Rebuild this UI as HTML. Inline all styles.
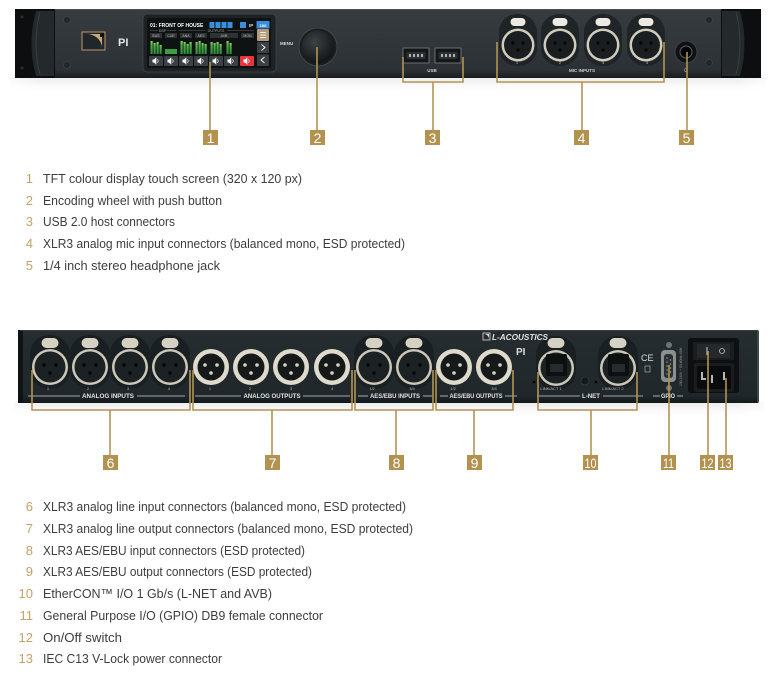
<!DOCTYPE html>
<html><head><meta charset="utf-8">
<style>html,body{margin:0;padding:0;background:#fff}svg{display:block}</style>
</head><body>
<svg width="776" height="673" viewBox="0 0 776 673" xmlns="http://www.w3.org/2000/svg" xmlns:xlink="http://www.w3.org/1999/xlink" font-family="'Liberation Sans', sans-serif">
<defs>
 <linearGradient id="sh" x1="0" y1="0" x2="0" y2="1"><stop offset="0" stop-color="#d4d4d4"/><stop offset="0.4" stop-color="#ececec"/><stop offset="1" stop-color="#ffffff" stop-opacity="0"/></linearGradient>
 <linearGradient id="shx" x1="0" y1="0" x2="1" y2="0"><stop offset="0" stop-color="#fff" stop-opacity="0"/><stop offset="0.05" stop-color="#fff" stop-opacity="1"/><stop offset="0.95" stop-color="#fff" stop-opacity="1"/><stop offset="1" stop-color="#fff" stop-opacity="0"/></linearGradient>
 <mask id="shm"><rect x="0" y="0" width="776" height="673" fill="url(#shx)"/></mask>
 <linearGradient id="topP" x1="0" y1="0" x2="0" y2="1"><stop offset="0" stop-color="#363c3f"/><stop offset="0.88" stop-color="#2b3134"/><stop offset="1" stop-color="#181c1e"/></linearGradient>
 <linearGradient id="botP" x1="0" y1="0" x2="0" y2="1"><stop offset="0" stop-color="#262d30"/><stop offset="0.9" stop-color="#20272a"/><stop offset="1" stop-color="#14181a"/></linearGradient>
 <radialGradient id="knob" cx="0.4" cy="0.35" r="0.75"><stop offset="0" stop-color="#3b4245"/><stop offset="1" stop-color="#0c0e0f"/></radialGradient>
 <linearGradient id="grn" x1="0" y1="0" x2="0" y2="1"><stop offset="0" stop-color="#9bd45c"/><stop offset="0.25" stop-color="#4fb24a"/><stop offset="1" stop-color="#2c8a38"/></linearGradient>

 <g id="xfT">
  <rect x="-19" y="-31" width="38" height="52" rx="18" fill="#1f2426"/>
  <rect x="-7.5" y="-27" width="15" height="8" rx="4" fill="#eceae2"/>
  <circle r="16.5" fill="#cfcbbd"/>
  <circle r="14" fill="#1a1e20"/>
  <circle cx="-5" cy="-2" r="1.6" fill="#050606"/>
  <circle cx="5" cy="-2" r="1.6" fill="#050606"/>
  <circle cx="0" cy="5" r="1.6" fill="#050606"/>
 </g>
 <g id="xfB">
  <rect x="-20" y="-32" width="40" height="54" rx="19" fill="#1a1f21"/>
  <rect x="-8.5" y="-29" width="17" height="10" rx="5" fill="#d6d2c3"/>
  <circle r="18" fill="#cbc7b9"/>
  <circle r="15.5" fill="#1c2123"/>
  <circle cx="-6" cy="-2" r="1.7" fill="#050606"/>
  <circle cx="6" cy="-2" r="1.7" fill="#050606"/>
  <circle cx="0" cy="6" r="1.7" fill="#050606"/>
 </g>
 <g id="xmB">
  <circle r="18" fill="#dedacc"/>
  <circle r="13.5" fill="#15191a"/>
  <circle cx="-6" cy="-2" r="1.8" fill="#d8d3c2"/>
  <circle cx="6" cy="-2" r="1.8" fill="#d8d3c2"/>
  <circle cx="0" cy="6" r="1.8" fill="#d8d3c2"/>
 </g>
 <g id="eth">
  <rect x="-20" y="-32" width="40" height="54" rx="19" fill="#1a1f21"/>
  <rect x="-8.5" y="-30" width="17" height="10" rx="5" fill="#d6d2c3"/>
  <circle r="18" fill="#cbc7b9"/>
  <circle r="15.5" fill="#1c2123"/>
  <rect x="-10" y="-14" width="21" height="22" rx="2" fill="#0d1011"/>
  <rect x="-6" y="-4" width="13" height="8" fill="#262b2d"/>
 </g>
 <g id="spk">
  <path d="M-3.5,-1.5 h1.6 l2.2,-2.2 v7.4 l-2.2,-2.2 h-1.6 z" fill="#fff"/>
  <path d="M1.4,-1.8 q1.6,1.8 0,3.6" stroke="#fff" stroke-width="0.7" fill="none"/>
 </g>
</defs>

<!-- ================= TOP DEVICE ================= -->
<rect x="10" y="77" width="756" height="16" fill="url(#sh)" opacity="0.45" mask="url(#shm)"/>
<rect x="15" y="9" width="746" height="69" fill="url(#topP)"/>
<line x1="15" y1="9.5" x2="761" y2="9.5" stroke="#4a5154" stroke-width="1"/>
<!-- left handle -->
<rect x="15" y="9" width="40" height="69" fill="#0c0e0f"/>
<path d="M36,11 Q27,43 36,76 L54,76 L54,11 Z" fill="#24292b"/>
<path d="M40,12 Q32,43 40,75" stroke="#3a4043" stroke-width="1" fill="none"/>
<circle cx="22" cy="17" r="1.5" fill="#2a2f31"/><circle cx="22" cy="68" r="1.5" fill="#2a2f31"/>
<circle cx="67" cy="20" r="3.5" fill="#22272a" stroke="#3d4346" stroke-width="0.8"/>
<circle cx="67" cy="65" r="3.5" fill="#22272a" stroke="#3d4346" stroke-width="0.8"/>
<!-- right handle -->
<rect x="721" y="9" width="40" height="69" fill="#0c0e0f"/>
<path d="M740,11 Q749,43 740,76 L722,76 L722,11 Z" fill="#24292b"/>
<path d="M736,12 Q744,43 736,75" stroke="#3a4043" stroke-width="1" fill="none"/>
<circle cx="709" cy="20" r="3.5" fill="#22272a" stroke="#3d4346" stroke-width="0.8"/>
<circle cx="709" cy="63" r="3.5" fill="#22272a" stroke="#3d4346" stroke-width="0.8"/>
<!-- logo -->
<rect x="82" y="32" width="23" height="18" fill="#20262a" stroke="#b99a68" stroke-width="1"/>
<path d="M84,34 H102 V48 A16,14 0 0 0 84,34 Z" fill="#c7a879"/>
<rect x="100" y="33" width="4" height="4" fill="#111"/>
<text x="118" y="46" font-size="11" font-weight="bold" fill="#e6e6e6">PI</text>

<!-- screen -->
<rect x="143" y="14" width="133" height="58" rx="4" fill="#1d2224" stroke="#41474a" stroke-width="0.8"/>
<rect x="147" y="18" width="124" height="50" rx="1" fill="#0f1213"/>
<text x="150" y="27" font-size="5" font-weight="bold" fill="#fff">01: FRONT OF HOUSE</text>
<g fill="#3a8fdc"><rect x="209.5" y="22" width="5" height="6"/><rect x="215.5" y="22" width="5" height="6"/><rect x="221.5" y="22" width="5" height="6"/><rect x="227.5" y="22" width="5" height="6"/><rect x="240" y="22" width="6" height="6"/><rect x="256.5" y="21" width="13" height="7.5"/></g>
<text x="249" y="27" font-size="4.5" fill="#ddd" font-weight="bold">IP</text>
<text x="263" y="26.8" font-size="4" fill="#fff" text-anchor="middle" font-weight="bold">100</text>
<g stroke="#666" stroke-width="0.5"><line x1="150" y1="30.5" x2="158" y2="30.5"/><line x1="167" y1="30.5" x2="176" y2="30.5"/><line x1="179" y1="30.5" x2="205" y2="30.5"/><line x1="227" y1="30.5" x2="254" y2="30.5"/></g>
<text x="162.5" y="32" font-size="3.5" fill="#aaa" text-anchor="middle">DSP</text>
<text x="216" y="32" font-size="3.5" fill="#aaa" text-anchor="middle">OUTPUTS</text>
<g fill="#2d3335"><rect x="150" y="33" width="12" height="5"/><rect x="165" y="33" width="12" height="5"/><rect x="180" y="33" width="12" height="5"/><rect x="195" y="33" width="12" height="5"/><rect x="210" y="33" width="28" height="5"/><rect x="241" y="33" width="13" height="5"/></g>
<g font-size="3.5" fill="#bbb" text-anchor="middle"><text x="156" y="37">BUS</text><text x="171" y="37">CUE</text><text x="186" y="37">ANA</text><text x="201" y="37">AES</text><text x="224" y="37">AVB</text><text x="247.5" y="37">MON</text></g>
<g fill="url(#grn)">
 <rect x="150.5" y="41" width="2.2" height="13"/><rect x="153.5" y="43" width="2.2" height="11"/><rect x="156.5" y="42" width="2.2" height="12"/><rect x="159.5" y="45" width="2.2" height="9"/>
 <rect x="165" y="49" width="12" height="5" fill="#3a9e44"/>
 <rect x="180.5" y="41" width="2.2" height="13"/><rect x="183.5" y="42" width="2.2" height="12"/><rect x="186.5" y="44" width="2.2" height="10"/><rect x="189.5" y="42" width="2.2" height="12"/>
 <rect x="195.5" y="42" width="2.2" height="12"/><rect x="198.5" y="41" width="2.2" height="13"/><rect x="201.5" y="43" width="2.2" height="11"/><rect x="204.5" y="44" width="2.2" height="10"/>
 <rect x="210.5" y="42" width="2.2" height="12"/><rect x="213.5" y="43" width="2.2" height="11"/><rect x="216.5" y="42" width="2.2" height="12"/><rect x="219.5" y="44" width="2.2" height="10"/>
 <rect x="226.5" y="41" width="2.2" height="13"/><rect x="229.5" y="43" width="2.2" height="11"/>
</g>
<g fill="#3a4043"><rect x="149" y="56" width="14" height="10" rx="1"/><rect x="164" y="56" width="14" height="10" rx="1"/><rect x="179" y="56" width="14" height="10" rx="1"/><rect x="194" y="56" width="14" height="10" rx="1"/><rect x="209" y="56" width="14" height="10" rx="1"/><rect x="224" y="56" width="14" height="10" rx="1"/></g>
<rect x="240" y="56" width="14" height="10" rx="1" fill="#e8343a"/>
<use xlink:href="#spk" x="156" y="61"/><use xlink:href="#spk" x="171" y="61"/><use xlink:href="#spk" x="186" y="61"/><use xlink:href="#spk" x="201" y="61"/><use xlink:href="#spk" x="216" y="61"/><use xlink:href="#spk" x="231" y="61"/><use xlink:href="#spk" x="247" y="61"/>
<rect x="257" y="29" width="12" height="12" rx="1" fill="#b39b7b"/>
<g stroke="#fff" stroke-width="0.8"><line x1="260" y1="32.5" x2="266" y2="32.5"/><line x1="260" y1="35" x2="266" y2="35"/><line x1="260" y1="37.5" x2="266" y2="37.5"/></g>
<rect x="257" y="42" width="12" height="11" rx="1" fill="#3a4043"/>
<path d="M261.5,44.5 L265,47.5 L261.5,50.5" stroke="#fff" stroke-width="0.9" fill="none"/>
<rect x="257" y="54.5" width="12" height="11.5" rx="1" fill="#3a4043"/>
<path d="M264.5,57 L261,60 L264.5,63" stroke="#fff" stroke-width="0.9" fill="none"/>

<!-- menu knob -->
<text x="280" y="45" font-size="4.5" font-weight="bold" fill="#d8d8d8">MENU</text>
<circle cx="318" cy="47" r="19" fill="#1a1e20" stroke="#454b4e" stroke-width="0.8"/>
<circle cx="318" cy="47" r="16.5" fill="url(#knob)"/>

<!-- USB -->
<rect x="403" y="48" width="26" height="15" fill="#141718" stroke="#70767a" stroke-width="0.9"/>
<rect x="406.5" y="52" width="19" height="7" fill="#2b3033"/>
<rect x="435" y="48" width="26" height="15" fill="#141718" stroke="#70767a" stroke-width="0.9"/>
<rect x="438.5" y="52" width="19" height="7" fill="#2b3033"/>
<g fill="#aab0b3"><rect x="409" y="54" width="2" height="3"/><rect x="413" y="54" width="2" height="3"/><rect x="417" y="54" width="2" height="3"/><rect x="421" y="54" width="2" height="3"/><rect x="441" y="54" width="2" height="3"/><rect x="445" y="54" width="2" height="3"/><rect x="449" y="54" width="2" height="3"/><rect x="453" y="54" width="2" height="3"/></g>
<text x="432" y="72" font-size="4.5" font-weight="bold" fill="#ccc" text-anchor="middle">USB</text>

<!-- mic inputs -->
<use xlink:href="#xfT" x="518" y="45"/><use xlink:href="#xfT" x="560" y="45"/><use xlink:href="#xfT" x="603" y="45"/><use xlink:href="#xfT" x="646" y="45"/>
<g font-size="4" fill="#bbb" text-anchor="middle"><text x="517" y="64">1</text><text x="560" y="64">2</text><text x="603" y="64">3</text><text x="647" y="64">4</text></g>
<text x="582" y="72" font-size="4.5" font-weight="bold" fill="#ccc" text-anchor="middle">MIC INPUTS</text>

<!-- headphone -->
<circle cx="686" cy="52" r="11" fill="#0f1112" stroke="#3c4245" stroke-width="1"/>
<circle cx="686" cy="52" r="6" fill="#050505" stroke="#5a6064" stroke-width="1"/>
<circle cx="686" cy="52" r="2.8" fill="#000"/>
<text x="686" y="72" font-size="5" fill="#bbb" text-anchor="middle">Ω</text>

<!-- top callouts -->
<g stroke="#b39452" stroke-width="1.6" fill="none">
 <line x1="210" y1="62" x2="210" y2="131"/>
 <line x1="317" y1="47" x2="317" y2="131"/>
 <path d="M403,57 V82 H463 V57"/><line x1="433" y1="82" x2="433" y2="131"/>
 <path d="M497,42 V82 H664 V42"/><line x1="582" y1="82" x2="582" y2="131"/>
 <line x1="687" y1="52" x2="687" y2="131"/>
</g>
<g fill="#b3924f"><rect x="203" y="130" width="15" height="15"/><rect x="310" y="130" width="15" height="15"/><rect x="425" y="130" width="15" height="15"/><rect x="574" y="130" width="15" height="15"/><rect x="679" y="130" width="15" height="15"/></g>
<g font-size="14" fill="#fff" text-anchor="middle" font-family="'Liberation Sans Narrow','Liberation Sans',sans-serif">
 <text x="210.5" y="143">1</text><text x="317.5" y="143">2</text><text x="432.5" y="143">3</text><text x="581.5" y="143">4</text><text x="686.5" y="143">5</text>
</g>

<!-- list 1 -->
<g font-size="13" fill="#c2a269" text-anchor="end">
 <text x="33" y="183">1</text><text x="33" y="205">2</text><text x="33" y="226">3</text><text x="33" y="248">4</text><text x="33" y="270">5</text>
</g>
<g font-size="13" fill="#3d3d3d">
 <text x="43" y="183" textLength="259" lengthAdjust="spacingAndGlyphs">TFT colour display touch screen (320 x 120 px)</text>
 <text x="43" y="205" textLength="179" lengthAdjust="spacingAndGlyphs">Encoding wheel with push button</text>
 <text x="43" y="226" textLength="132" lengthAdjust="spacingAndGlyphs">USB 2.0 host connectors</text>
 <text x="43" y="248" textLength="362" lengthAdjust="spacingAndGlyphs">XLR3 analog mic input connectors (balanced mono, ESD protected)</text>
 <text x="43" y="270" textLength="177" lengthAdjust="spacingAndGlyphs">1/4 inch stereo headphone jack</text>
</g>

<!-- ================= BOTTOM DEVICE ================= -->
<rect x="14" y="402" width="750" height="16" fill="url(#sh)" opacity="0.45" mask="url(#shm)"/>
<rect x="18" y="330" width="741" height="73" rx="2" fill="url(#botP)"/>
<rect x="18" y="330" width="5" height="73" fill="#101314"/>
<line x1="758" y1="331" x2="758" y2="402" stroke="#4b5255" stroke-width="1.5"/>
<line x1="20" y1="330.5" x2="757" y2="330.5" stroke="#3a4144" stroke-width="1"/>

<use xlink:href="#xfB" x="50" y="367"/><use xlink:href="#xfB" x="90" y="367"/><use xlink:href="#xfB" x="130" y="367"/><use xlink:href="#xfB" x="170" y="367"/>
<use xlink:href="#xmB" x="211" y="367"/><use xlink:href="#xmB" x="251" y="367"/><use xlink:href="#xmB" x="291" y="367"/><use xlink:href="#xmB" x="332" y="367"/>
<use xlink:href="#xfB" x="374" y="367"/><use xlink:href="#xfB" x="414" y="367"/>
<use xlink:href="#xmB" x="454" y="367"/><use xlink:href="#xmB" x="494" y="367"/>
<use xlink:href="#eth" x="556" y="368"/><use xlink:href="#eth" x="618" y="368"/>

<g font-size="4" fill="#bbb" text-anchor="middle">
 <text x="48" y="390">1</text><text x="88" y="390">2</text><text x="128" y="390">3</text><text x="169" y="390">4</text>
 <text x="210" y="390">1</text><text x="250" y="390">2</text><text x="291" y="390">3</text><text x="332" y="390">4</text>
 <text x="372" y="390">1/2</text><text x="412" y="390">3/4</text><text x="453" y="390">1/2</text><text x="494" y="390">3/4</text>
 <text x="551" y="390">LINK/ACT 1</text><text x="613" y="390">LINK/ACT 2</text>
</g>
<g stroke="#cfcfcf" stroke-width="0.8">
 <line x1="28" y1="396" x2="80" y2="396"/><line x1="137" y1="396" x2="185" y2="396"/>
 <line x1="195" y1="396" x2="241" y2="396"/><line x1="303" y1="396" x2="350" y2="396"/>
 <line x1="358" y1="396" x2="368" y2="396"/><line x1="423" y1="396" x2="432" y2="396"/>
 <line x1="440" y1="396" x2="448" y2="396"/><line x1="505" y1="396" x2="517" y2="396"/>
 <line x1="537" y1="396" x2="580" y2="396"/><line x1="603" y1="396" x2="643" y2="396"/>
 <line x1="653" y1="396" x2="660" y2="396"/><line x1="677" y1="396" x2="683" y2="396"/>
</g>
<g font-size="6" font-weight="bold" fill="#e2e2e2" text-anchor="middle">
 <text x="108" y="398" textLength="52" lengthAdjust="spacingAndGlyphs">ANALOG INPUTS</text>
 <text x="272" y="398" textLength="57" lengthAdjust="spacingAndGlyphs">ANALOG OUTPUTS</text>
 <text x="395" y="398" textLength="50" lengthAdjust="spacingAndGlyphs">AES/EBU INPUTS</text>
 <text x="476" y="398" textLength="53" lengthAdjust="spacingAndGlyphs">AES/EBU OUTPUTS</text>
 <text x="591" y="398" textLength="18" lengthAdjust="spacingAndGlyphs">L-NET</text>
 <text x="668" y="398" textLength="14" lengthAdjust="spacingAndGlyphs">GPIO</text>
</g>
<!-- logo -->
<rect x="483" y="333" width="7" height="7" fill="none" stroke="#ddd" stroke-width="0.8"/>
<path d="M484,334 H489 V339 A5,5 0 0 0 484,334 Z" fill="#ddd"/>
<text x="492" y="340" font-size="8" font-weight="bold" font-style="italic" fill="#e2e2e2" textLength="56" lengthAdjust="spacingAndGlyphs">L-ACOUSTICS</text>
<text x="516" y="355" font-size="10" font-weight="bold" fill="#ddd">PI</text>
<circle cx="534" cy="382" r="1.3" fill="#000"/><circle cx="596" cy="382" r="1.3" fill="#000"/>
<circle cx="585" cy="381" r="4" fill="#15191b" stroke="#353b3e" stroke-width="0.8"/>
<!-- CE -->
<text x="641" y="361" font-size="9" fill="#ddd">CE</text>
<rect x="645" y="366" width="5" height="6" fill="none" stroke="#bbb" stroke-width="0.6"/>
<!-- GPIO -->
<circle cx="669" cy="345" r="3" fill="#6e7375"/><circle cx="669" cy="388" r="3" fill="#6e7375"/>
<rect x="661" y="350" width="15" height="32" rx="4" fill="#8a8f90"/>
<rect x="664" y="354" width="9" height="24" rx="3" fill="#2a2f31"/>
<g fill="#999"><circle cx="667" cy="358" r="0.8"/><circle cx="667" cy="362" r="0.8"/><circle cx="667" cy="366" r="0.8"/><circle cx="667" cy="370" r="0.8"/><circle cx="667" cy="374" r="0.8"/><circle cx="670.5" cy="360" r="0.8"/><circle cx="670.5" cy="364" r="0.8"/><circle cx="670.5" cy="368" r="0.8"/><circle cx="670.5" cy="372" r="0.8"/></g>
<text x="0" y="0" font-size="3.3" fill="#999" transform="translate(682,386) rotate(-90)">100-240V ~ 50-60Hz 40W</text>
<!-- power -->
<rect x="688" y="338" width="51" height="55" rx="3" fill="#0d0f10"/>
<rect x="693" y="342" width="41" height="18" fill="#1b1e20"/>
<rect x="697" y="344" width="33" height="14" fill="#25292b"/>
<line x1="707" y1="347" x2="707" y2="355" stroke="#d0d0d0" stroke-width="1"/>
<circle cx="722" cy="351" r="2.5" fill="none" stroke="#c8c8c8" stroke-width="0.8"/>
<rect x="694" y="363" width="40" height="29" rx="2" fill="#1a1d1f"/>
<rect x="697" y="366" width="34" height="23" rx="2" fill="#0a0b0c"/>
<g fill="#b8b8b8"><rect x="701" y="372" width="2" height="8"/><rect x="701" y="378" width="5" height="2"/><rect x="711" y="375" width="2" height="8"/><rect x="723" y="372" width="2" height="8"/></g>

<!-- bottom callouts -->
<g stroke="#b39452" stroke-width="1.6" fill="none">
 <path d="M32,370 V410 H190 V370"/><line x1="110" y1="410" x2="110" y2="456"/>
 <path d="M193,370 V410 H352 V370"/><line x1="272" y1="410" x2="272" y2="456"/>
 <path d="M355,370 V410 H433 V370"/><line x1="396" y1="410" x2="396" y2="456"/>
 <path d="M436,370 V410 H513 V370"/><line x1="474" y1="410" x2="474" y2="456"/>
 <path d="M538,372 V410 H637 V372"/><line x1="591" y1="410" x2="591" y2="456"/>
 <line x1="669" y1="365" x2="669" y2="456"/>
 <line x1="708" y1="351" x2="708" y2="456"/>
 <line x1="726" y1="378" x2="726" y2="456"/>
</g>
<g fill="#b3924f">
 <rect x="103" y="455" width="15" height="15"/><rect x="265" y="455" width="15" height="15"/><rect x="389" y="455" width="15" height="15"/><rect x="467" y="455" width="15" height="15"/><rect x="583" y="455" width="15" height="15"/><rect x="661" y="455" width="15" height="15"/><rect x="700" y="455" width="15" height="15"/><rect x="718" y="455" width="15" height="15"/>
</g>
<g font-size="14" fill="#fff" text-anchor="middle" font-family="'Liberation Sans Narrow','Liberation Sans',sans-serif">
 <text x="110.5" y="468">6</text><text x="272.5" y="468">7</text><text x="396.5" y="468">8</text><text x="474.5" y="468">9</text>
 <text x="590.5" y="468" textLength="12" lengthAdjust="spacingAndGlyphs">10</text>
 <text x="668.5" y="468" textLength="11" lengthAdjust="spacingAndGlyphs">11</text>
 <text x="707.5" y="468" textLength="12" lengthAdjust="spacingAndGlyphs">12</text>
 <text x="725.5" y="468" textLength="12" lengthAdjust="spacingAndGlyphs">13</text>
</g>

<!-- list 2 -->
<g font-size="13" fill="#c2a269" text-anchor="end">
 <text x="33" y="511">6</text><text x="33" y="533">7</text><text x="33" y="555">8</text><text x="33" y="576">9</text><text x="33" y="598">10</text><text x="33" y="620">11</text><text x="33" y="642">12</text><text x="33" y="663">13</text>
</g>
<g font-size="13" fill="#3d3d3d">
 <text x="43" y="511" textLength="363" lengthAdjust="spacingAndGlyphs">XLR3 analog line input connectors (balanced mono, ESD protected)</text>
 <text x="43" y="533" textLength="370" lengthAdjust="spacingAndGlyphs">XLR3 analog line output connectors (balanced mono, ESD protected)</text>
 <text x="43" y="555" textLength="262" lengthAdjust="spacingAndGlyphs">XLR3 AES/EBU input connectors (ESD protected)</text>
 <text x="43" y="576" textLength="269" lengthAdjust="spacingAndGlyphs">XLR3 AES/EBU output connectors (ESD protected)</text>
 <text x="43" y="598" textLength="229" lengthAdjust="spacingAndGlyphs">EtherCON™ I/O 1 Gb/s (L-NET and AVB)</text>
 <text x="43" y="620" textLength="280" lengthAdjust="spacingAndGlyphs">General Purpose I/O (GPIO) DB9 female connector</text>
 <text x="43" y="642" textLength="79" lengthAdjust="spacingAndGlyphs">On/Off switch</text>
 <text x="43" y="663" textLength="179" lengthAdjust="spacingAndGlyphs">IEC C13 V-Lock power connector</text>
</g>
</svg>
</body></html>
